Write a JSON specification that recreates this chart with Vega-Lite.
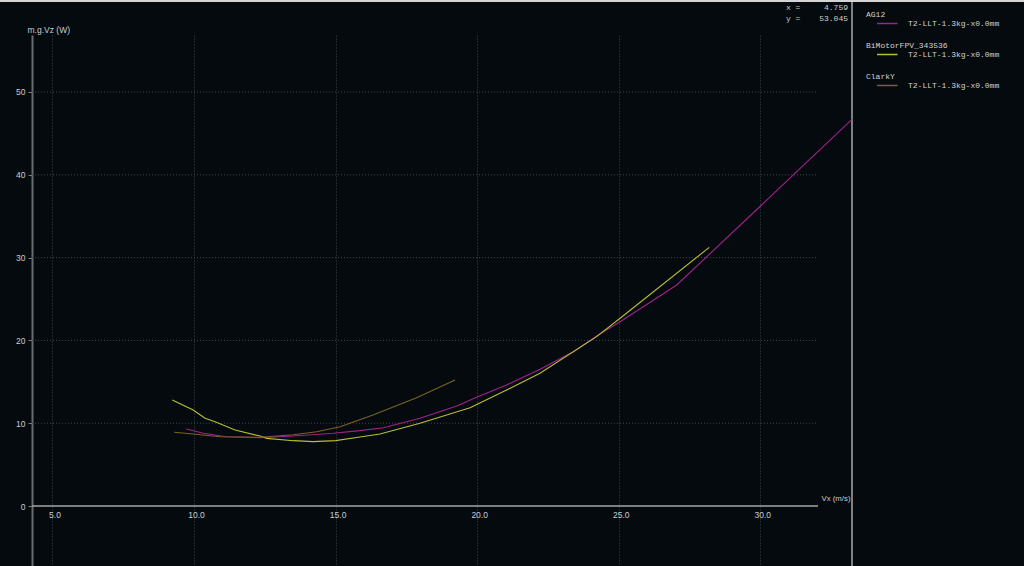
{
  "$schema": "https://vega.github.io/schema/vega-lite/v6.json",
  "width": 820,
  "height": 531,
  "autosize": {"type": "none"},
  "padding": {"left": 32, "top": 35, "right": 172, "bottom": 0},
  "background": "#040a0e",
  "config": {"view": {"stroke": null}},
  "datasets": {
    "curves": [
      {"series": "AG12", "x": 9.72, "y": 9.30},
      {"series": "AG12", "x": 10.33, "y": 8.78},
      {"series": "AG12", "x": 11.15, "y": 8.37},
      {"series": "AG12", "x": 12.33, "y": 8.25},
      {"series": "AG12", "x": 13.51, "y": 8.45},
      {"series": "AG12", "x": 14.92, "y": 8.78},
      {"series": "AG12", "x": 15.86, "y": 9.10},
      {"series": "AG12", "x": 16.69, "y": 9.46},
      {"series": "AG12", "x": 17.98, "y": 10.59},
      {"series": "AG12", "x": 19.28, "y": 12.08},
      {"series": "AG12", "x": 19.98, "y": 13.13},
      {"series": "AG12", "x": 21.04, "y": 14.61},
      {"series": "AG12", "x": 22.22, "y": 16.51},
      {"series": "AG12", "x": 23.40, "y": 18.64},
      {"series": "AG12", "x": 24.22, "y": 20.53},
      {"series": "AG12", "x": 25.05, "y": 22.26},
      {"series": "AG12", "x": 27.05, "y": 26.69},
      {"series": "AG12", "x": 30.00, "y": 36.20},
      {"series": "AG12", "x": 33.24, "y": 46.70},
      {"series": "BiMotorFPV_343536", "x": 9.23, "y": 12.80},
      {"series": "BiMotorFPV_343536", "x": 9.97, "y": 11.59},
      {"series": "BiMotorFPV_343536", "x": 10.39, "y": 10.59},
      {"series": "BiMotorFPV_343536", "x": 10.74, "y": 10.18},
      {"series": "BiMotorFPV_343536", "x": 11.45, "y": 9.18},
      {"series": "BiMotorFPV_343536", "x": 12.33, "y": 8.45},
      {"series": "BiMotorFPV_343536", "x": 12.57, "y": 8.17},
      {"series": "BiMotorFPV_343536", "x": 13.51, "y": 7.89},
      {"series": "BiMotorFPV_343536", "x": 14.21, "y": 7.77},
      {"series": "BiMotorFPV_343536", "x": 15.00, "y": 7.90},
      {"series": "BiMotorFPV_343536", "x": 15.86, "y": 8.33},
      {"series": "BiMotorFPV_343536", "x": 16.57, "y": 8.70},
      {"series": "BiMotorFPV_343536", "x": 17.98, "y": 9.99},
      {"series": "BiMotorFPV_343536", "x": 19.75, "y": 11.87},
      {"series": "BiMotorFPV_343536", "x": 21.04, "y": 14.01},
      {"series": "BiMotorFPV_343536", "x": 22.22, "y": 16.03},
      {"series": "BiMotorFPV_343536", "x": 24.22, "y": 20.45},
      {"series": "BiMotorFPV_343536", "x": 25.05, "y": 22.67},
      {"series": "BiMotorFPV_343536", "x": 28.20, "y": 31.24},
      {"series": "ClarkY", "x": 9.30, "y": 8.90},
      {"series": "ClarkY", "x": 9.97, "y": 8.70},
      {"series": "ClarkY", "x": 10.92, "y": 8.37},
      {"series": "ClarkY", "x": 12.33, "y": 8.30},
      {"series": "ClarkY", "x": 13.51, "y": 8.61},
      {"series": "ClarkY", "x": 14.33, "y": 8.97},
      {"series": "ClarkY", "x": 15.16, "y": 9.58},
      {"series": "ClarkY", "x": 16.32, "y": 10.99},
      {"series": "ClarkY", "x": 17.86, "y": 13.08},
      {"series": "ClarkY", "x": 19.22, "y": 15.22}
    ],
    "ygrid": [{"y": 10}, {"y": 20}, {"y": 30}, {"y": 40}, {"y": 50}],
    "one": [{}],
    "legend": [
      {"series": "AG12", "label": "T2-LLT-1.3kg-x0.0mm"},
      {"series": "BiMotorFPV_343536", "label": "T2-LLT-1.3kg-x0.0mm"},
      {"series": "ClarkY", "label": "T2-LLT-1.3kg-x0.0mm"}
    ],
    "readout": [
      {"k": "x =", "v": "4.759"},
      {"k": "y =", "v": "53.045"}
    ]
  },
  "layer": [
    {
      "layer": [
        {
          "data": {"name": "ygrid"},
          "mark": {"type": "rule", "stroke": "#3d4a4a", "strokeDash": [1, 2], "strokeWidth": 1},
          "encoding": {
            "y": {"field": "y", "type": "quantitative", "title": "m.g.Vz (W)"},
            "x": {"datum": 4.276, "type": "quantitative", "title": "Vx (m/s)"},
            "x2": {"datum": 32.04}
          }
        },
        {
          "data": {"name": "one"},
          "mark": {"type": "rule", "stroke": "#a4a4a4", "strokeWidth": 1.5},
          "encoding": {
            "y": {"datum": 0, "type": "quantitative", "title": "m.g.Vz (W)"},
            "x": {"datum": 4.276, "type": "quantitative", "title": "Vx (m/s)"},
            "x2": {"datum": 32.04}
          }
        },
        {
          "data": {"name": "one"},
          "mark": {"type": "rule", "stroke": "#a8a8a8", "strokeWidth": 1.5},
          "encoding": {
            "x": {"datum": 33.241, "type": "quantitative", "title": "Vx (m/s)"},
            "y": {"datum": -7.246, "type": "quantitative", "title": "m.g.Vz (W)"},
            "y2": {"datum": 61.11}
          }
        },
        {
          "data": {"name": "one"},
          "mark": {"type": "rule", "stroke": "#d4d4d4", "strokeWidth": 2},
          "encoding": {
            "y": {"datum": 60.99, "type": "quantitative", "title": "m.g.Vz (W)"},
            "x": {"datum": 3.145, "type": "quantitative", "title": "Vx (m/s)"},
            "x2": {"datum": 39.33}
          }
        },
        {
          "data": {"name": "curves"},
          "mark": {"type": "line", "strokeWidth": 1.1},
          "encoding": {
            "x": {
              "field": "x", "type": "quantitative",
              "scale": {"domain": [4.276, 33.241], "nice": false, "zero": false},
              "axis": {
                "title": "Vx (m/s)", "values": [5, 10, 15, 20, 25, 30], "format": ".1f",
                "offset": -60, "domain": false, "ticks": false,
                "grid": true, "gridColor": "#3d4a4a", "gridDash": [1, 2], "gridWidth": 1,
                "labelColor": "#c8ced4", "labelFont": "Liberation Sans", "labelFontSize": 8.5,
                "labelPadding": 4, "labelOffset": 2,
                "titleX": 789, "titleY": -6, "titleAlign": "left", "titleBaseline": "alphabetic",
                "titleAngle": 0, "titleFont": "Liberation Sans", "titleFontSize": 7.8,
                "titleFontWeight": "normal", "titleColor": "#c8ced4"
              }
            },
            "y": {
              "field": "y", "type": "quantitative",
              "scale": {"domain": [-7.246, 56.884], "nice": false, "zero": false},
              "axis": {
                "title": "m.g.Vz (W)", "values": [0, 10, 20, 30, 40, 50], "format": "d",
                "domain": true, "domainColor": "#6c6c6c", "domainWidth": 2,
                "ticks": true, "tickColor": "#808080", "tickSize": 4, "tickWidth": 1,
                "grid": false,
                "labelColor": "#c8ced4", "labelFont": "Liberation Sans", "labelFontSize": 8.5,
                "labelPadding": 3,
                "titleX": -5, "titleY": -3, "titleAlign": "left", "titleBaseline": "alphabetic",
                "titleAngle": 0, "titleFont": "Liberation Sans", "titleFontSize": 8.5,
                "titleFontWeight": "normal", "titleColor": "#c8ced4"
              }
            },
            "color": {
              "field": "series", "type": "nominal",
              "scale": {"domain": ["AG12", "BiMotorFPV_343536", "ClarkY"], "range": ["#a2218f", "#b8bf30", "#7d6324"]},
              "legend": null
            }
          }
        }
      ]
    },
    {
      "data": {"name": "legend"},
      "encoding": {
        "y": {
          "field": "series", "type": "nominal",
          "scale": {"type": "point", "domain": ["AG12", "BiMotorFPV_343536", "ClarkY"], "range": [-20, 42], "padding": 0},
          "axis": null
        }
      },
      "layer": [
        {
          "mark": {"type": "text", "align": "left", "baseline": "middle", "font": "Liberation Mono", "fontSize": 8, "color": "#d2d2d2"},
          "encoding": {"x": {"datum": 33.736, "type": "quantitative"}, "text": {"field": "series"}}
        },
        {
          "mark": {"type": "rule", "yOffset": 8.5, "strokeWidth": 1.5},
          "encoding": {
            "x": {"datum": 34.124, "type": "quantitative"},
            "x2": {"datum": 34.848},
            "color": {"field": "series", "type": "nominal", "legend": null}
          }
        },
        {
          "mark": {"type": "text", "align": "left", "baseline": "middle", "dy": 8.5, "font": "Liberation Mono", "fontSize": 8, "color": "#d2d2d2"},
          "encoding": {"x": {"datum": 35.219, "type": "quantitative"}, "text": {"field": "label"}}
        }
      ]
    },
    {
      "data": {"name": "readout"},
      "encoding": {
        "y": {
          "field": "k", "type": "nominal",
          "scale": {"type": "point", "domain": ["x =", "y ="], "range": [-27, -16], "padding": 0},
          "axis": null
        }
      },
      "layer": [
        {
          "mark": {"type": "text", "align": "left", "baseline": "middle", "font": "Liberation Mono", "fontSize": 8, "color": "#cfcfcf"},
          "encoding": {"x": {"datum": 30.91, "type": "quantitative"}, "text": {"field": "k"}}
        },
        {
          "mark": {"type": "text", "align": "right", "baseline": "middle", "font": "Liberation Mono", "fontSize": 8, "color": "#cfcfcf"},
          "encoding": {"x": {"datum": 33.10, "type": "quantitative"}, "text": {"field": "v"}}
        }
      ]
    }
  ],
  "resolve": {"scale": {"y": "independent"}}
}
